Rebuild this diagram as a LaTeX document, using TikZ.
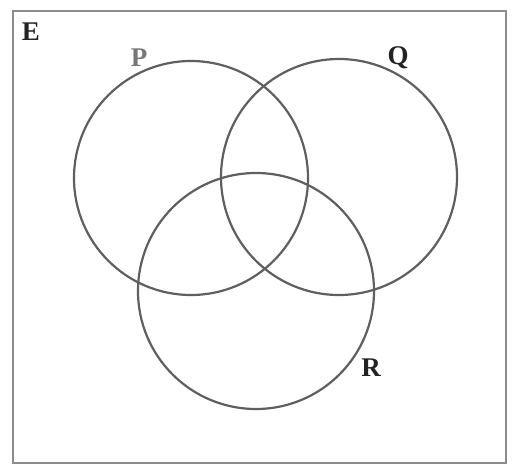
\documentclass[tikz,border=0pt]{standalone}
\usepackage{fontspec}
\setmainfont{Liberation Serif}
\definecolor{ring}{RGB}{95,95,95}
\definecolor{frame}{RGB}{140,140,140}
\definecolor{ink}{RGB}{35,35,35}
\definecolor{pink}{RGB}{120,120,120}
\begin{document}
\begin{tikzpicture}[x=1pt, y=-1pt,
  setline/.style={draw=ring, line width=2.2pt},
  setname/.style={font=\fontsize{27}{27}\selectfont\bfseries, text=ink, inner sep=0pt}]
 \useasboundingbox (0,0) rectangle (515,474);
 % universal set
 \draw[draw=frame, line width=2.4pt] (13,11) rectangle (506,463);
 \node[setname] (e) at (31,32) {E};
 % the three sets
 \coordinate (cp) at (191,178);
 \coordinate (cq) at (339,177);
 \coordinate (cr) at (256,291);
 \draw[setline] (cp) circle (117);
 \draw[setline] (cq) circle (118);
 \draw[setline] (cr) circle (118);
 \node[setname, text=pink] (p) at (139,58) {P};
 \node[setname] (q) at (398,58) {Q};
 \node[setname] (r) at (371,368) {R};
\end{tikzpicture}
\end{document}
